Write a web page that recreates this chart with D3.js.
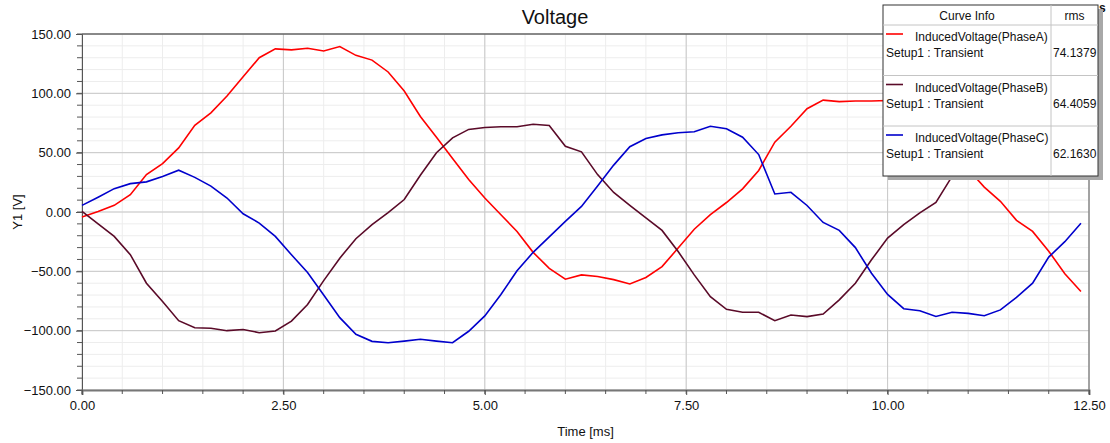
<!DOCTYPE html>
<html>
<head>
<meta charset="utf-8">
<script src="https://cdn.jsdelivr.net/npm/d3@7"></script>
<style>
  body { margin: 0; background: #fff; }
  svg { display: block; font-family: Arial, "Liberation Sans", sans-serif; }
</style>
</head>
<body>
<svg width="1110" height="443"></svg>
<script>
// sample times [ms]
var time = [0.0, 0.2, 0.4, 0.6, 0.8, 1.0, 1.2, 1.4, 1.6, 1.8, 2.0, 2.2, 2.4, 2.6, 2.8, 3.0,
    3.2, 3.4, 3.6, 3.8, 4.0, 4.2, 4.4, 4.6, 4.8, 5.0, 5.2, 5.4, 5.6, 5.8, 6.0, 6.2,
    6.4, 6.6, 6.8, 7.0, 7.2, 7.4, 7.6, 7.8, 8.0, 8.2, 8.4, 8.6, 8.8, 9.0, 9.2, 9.4,
    9.6, 9.8, 10.0, 10.2, 10.4, 10.6, 10.8, 11.0, 11.2, 11.4, 11.6, 11.8, 12.0, 12.2, 12.4];

var phaseA = [-4.2, 0.5, 5.6, 14.6, 31.5, 40.8, 54, 73, 83.6, 97.7, 114, 130, 137.5, 136.6, 138, 135.7,
    139.4, 132, 128, 118, 102, 80.5, 63, 45, 27.3, 11.8, -2.3, -16.4, -34, -47.5, -56.6, -53,
    -54.4, -57, -60.6, -55.2, -46, -30.4, -14.5, -2.3, 8, 19.5, 35, 58.8, 72.3, 87, 94.3, 93,
    93.5, 93.5, 94, 90, 80, 66, 50, 36, 21, 9, -7, -16.4, -33, -52, -67];

var phaseB = [0.5, -10, -20.6, -36, -60, -75.5, -91.6, -97.5, -98, -100, -99, -101.7, -100.3, -92, -78, -57.8,
    -38.9, -22.5, -10.7, -0.5, 10.5, 31, 50, 62.5, 69.6, 71.2, 71.8, 71.8, 74, 72.9, 55.4, 50.7,
    31.5, 16.5, 5.6, -5, -15.5, -33.3, -53, -71.3, -82, -84.5, -84.5, -91.6, -86.8, -88.2, -86, -74,
    -60, -40.3, -22, -10.7, -0.8, 8.1, 30, 45, 58, 68, 76, 82, 86, 88, 89];

var phaseC = [5.6, 12.5, 19.7, 23.9, 25.4, 30, 35.2, 29.2, 21.8, 11.8, -1.5, -9.3, -20.6, -36, -51, -69.9,
    -89, -103, -109, -110.2, -108.8, -107.3, -108.8, -110.2, -100.5, -87.6, -69.5, -49.5, -34, -21, -7.9, 4.7,
    22, 39.5, 55, 62, 65, 66.8, 67.6, 72.3, 70.1, 63, 48.4, 15.2, 16.6, 5.5, -8.8, -15.5,
    -30, -51.6, -69.5, -81.5, -83.2, -88, -84.5, -85.4, -87.4, -82.5, -72, -60, -38, -25, -9.5];

var curveNames = ["InducedVoltage(PhaseA)", "InducedVoltage(PhaseB)", "InducedVoltage(PhaseC)"];
var setupLabel = "Setup1 : Transient";
var rmsValues = ["74.1379", "64.4059", "62.1630"];
var xTicks = [0, 2.5, 5, 7.5, 10, 12.5];
var yTicks = [-150, -100, -50, 0, 50, 100, 150];

var colors = ["#ff0000", "#5a0a28", "#0000cc"];

var svg = d3.select("svg"),
    margin = {top: 34, right: 21, bottom: 53, left: 82},
    width = +svg.attr("width") - margin.left - margin.right,
    height = +svg.attr("height") - margin.top - margin.bottom,
    g = svg.append("g").attr("transform", "translate(" + margin.left + "," + margin.top + ")");

var x = d3.scaleLinear().domain([0, 12.5]).range([0, width]);
var y = d3.scaleLinear().domain([-150, 150]).range([height, 0]);

// minor grid
g.append("g")
    .selectAll("line")
    .data(d3.range(0, 12.51, 0.5))
    .enter().append("line")
    .attr("x1", function(d) { return x(d); })
    .attr("x2", function(d) { return x(d); })
    .attr("y1", 0).attr("y2", height)
    .attr("stroke", "#ededed");
g.append("g")
    .selectAll("line")
    .data(d3.range(-150, 151, 10))
    .enter().append("line")
    .attr("y1", function(d) { return y(d); })
    .attr("y2", function(d) { return y(d); })
    .attr("x1", 0).attr("x2", width)
    .attr("stroke", "#ededed");

// major grid
g.append("g")
    .selectAll("line")
    .data(xTicks)
    .enter().append("line")
    .attr("x1", function(d) { return x(d); })
    .attr("x2", function(d) { return x(d); })
    .attr("y1", 0).attr("y2", height)
    .attr("stroke", "#c8c8c8");
g.append("g")
    .selectAll("line")
    .data(yTicks)
    .enter().append("line")
    .attr("y1", function(d) { return y(d); })
    .attr("y2", function(d) { return y(d); })
    .attr("x1", 0).attr("x2", width)
    .attr("stroke", "#c8c8c8");

// frame
g.append("line").attr("x1", 0).attr("x2", width).attr("y1", 0).attr("y2", 0)
    .attr("stroke", "#333");
g.append("line").attr("x1", width).attr("x2", width).attr("y1", 0).attr("y2", height)
    .attr("stroke", "#666");

// axes
var yAxis = g.append("g")
    .call(d3.axisLeft(y).tickValues(yTicks).tickFormat(d3.format(".2f")).tickSize(6).tickPadding(5));
yAxis.select(".domain").attr("stroke", "#555");
yAxis.selectAll("text").attr("font-size", 13).attr("fill", "#111");
yAxis.selectAll(".tick line").attr("stroke", "#555");
g.append("g")
    .selectAll("line")
    .data(d3.range(-150, 151, 10))
    .enter().append("line")
    .attr("x1", -5).attr("x2", 0)
    .attr("y1", function(d) { return y(d); })
    .attr("y2", function(d) { return y(d); })
    .attr("stroke", "#555");

var xAxis = g.append("g")
    .attr("transform", "translate(0," + height + ")")
    .call(d3.axisBottom(x).tickValues(xTicks).tickFormat(d3.format(".2f")).tickSize(5).tickPadding(6));
xAxis.select(".domain").attr("stroke", "#777").attr("stroke-width", 2);
xAxis.selectAll("text").attr("font-size", 13).attr("fill", "#111");
xAxis.selectAll(".tick line").attr("stroke", "#555");
g.append("g")
    .selectAll("line")
    .data(d3.range(0, 12.51, 0.5))
    .enter().append("line")
    .attr("x1", function(d) { return x(d); })
    .attr("x2", function(d) { return x(d); })
    .attr("y1", height).attr("y2", height + 4)
    .attr("stroke", "#555");

// curves
var series = [phaseA, phaseB, phaseC];
var line = d3.line()
    .x(function(d, i) { return x(time[i]); })
    .y(function(d) { return y(d); });

g.selectAll(".curve")
    .data(series)
    .enter().append("path")
    .attr("class", "curve")
    .attr("d", line)
    .attr("fill", "none")
    .attr("stroke", function(d, i) { return colors[i]; })
    .attr("stroke-width", 1.6);

// titles
svg.append("text")
    .attr("x", 555).attr("y", 24)
    .attr("text-anchor", "middle")
    .attr("font-size", 20)
    .attr("fill", "#111")
    .text("Voltage");

svg.append("text")
    .attr("x", margin.left + width / 2).attr("y", 436)
    .attr("text-anchor", "middle")
    .attr("font-size", 13)
    .attr("fill", "#111")
    .text("Time [ms]");

svg.append("text")
    .attr("transform", "translate(22," + (margin.top + height / 2) + ") rotate(-90)")
    .attr("text-anchor", "middle")
    .attr("font-size", 13)
    .attr("fill", "#111")
    .text("Y1 [V]");

// cut off label peeking out behind the legend
svg.append("text")
    .attr("x", 1099).attr("y", 12)
    .attr("font-size", 12)
    .attr("font-weight", "bold")
    .attr("fill", "#111")
    .text("s");

// legend box
var lg = svg.append("g").attr("transform", "translate(883,5)");
var lw = 215, lh = 171, colX = 168, headH = 20, rowH = 50.5;

lg.append("rect")
    .attr("x", 5).attr("y", 4).attr("width", lw).attr("height", lh)
    .attr("fill", "#a8a8a8");
lg.append("rect")
    .attr("x", 0).attr("y", 0).attr("width", lw).attr("height", lh)
    .attr("fill", "#fff")
    .attr("stroke", "#333");
lg.append("line")
    .attr("x1", colX).attr("x2", colX).attr("y1", 0).attr("y2", lh)
    .attr("stroke", "#c4c4c4");
lg.selectAll(".sep")
    .data([0, 1, 2])
    .enter().append("line")
    .attr("class", "sep")
    .attr("x1", 0).attr("x2", lw)
    .attr("y1", function(d) { return headH + d * rowH; })
    .attr("y2", function(d) { return headH + d * rowH; })
    .attr("stroke", "#c4c4c4");

lg.append("text")
    .attr("x", colX / 2).attr("y", 15)
    .attr("text-anchor", "middle")
    .attr("font-size", 12).attr("fill", "#111")
    .text("Curve Info");
lg.append("text")
    .attr("x", colX + (lw - colX) / 2).attr("y", 15)
    .attr("text-anchor", "middle")
    .attr("font-size", 12).attr("fill", "#111")
    .text("rms");

var rows = lg.selectAll(".row")
    .data(curveNames)
    .enter().append("g")
    .attr("class", "row")
    .attr("transform", function(d, i) { return "translate(0," + (headH + i * rowH) + ")"; });

rows.append("line")
    .attr("x1", 3).attr("x2", 20).attr("y1", 9).attr("y2", 9)
    .attr("stroke", function(d, i) { return colors[i]; })
    .attr("stroke-width", 1.6);
rows.append("text")
    .attr("x", 32).attr("y", 16)
    .attr("font-size", 12).attr("fill", "#111")
    .text(function(d) { return d; });
rows.append("text")
    .attr("x", 3).attr("y", 32)
    .attr("font-size", 12).attr("fill", "#111")
    .text(setupLabel);
rows.append("text")
    .attr("x", colX + 2).attr("y", 32)
    .attr("font-size", 12).attr("fill", "#111")
    .text(function(d, i) { return rmsValues[i]; });
</script>
</body>
</html>
